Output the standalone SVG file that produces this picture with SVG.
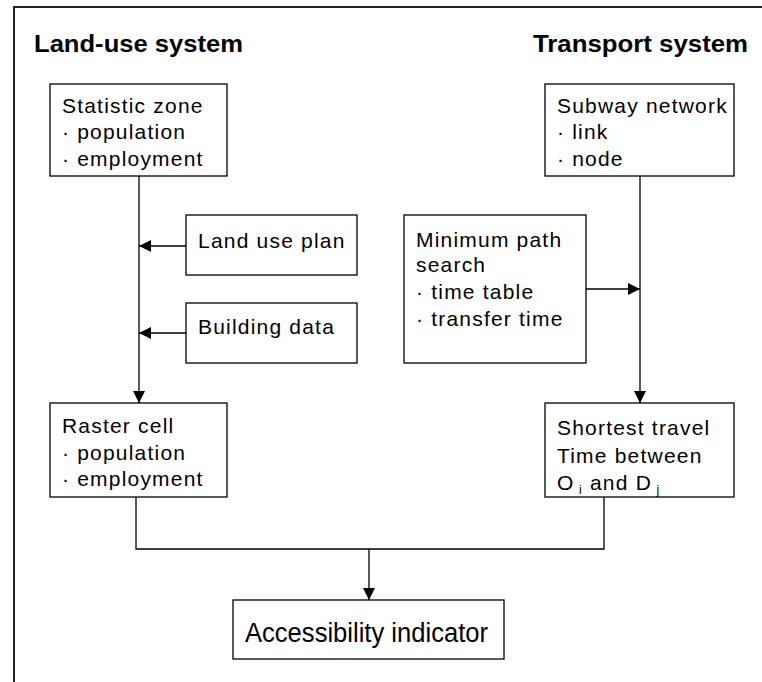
<svg xmlns="http://www.w3.org/2000/svg" width="762" height="682" viewBox="0 0 762 682">
<style>
.box{fill:#fff;stroke:#000;stroke-width:1.3}
.t{font-family:"Liberation Sans",Arial,sans-serif;font-size:21px;letter-spacing:1.2px;fill:#000}
.s{font-size:12px;fill:#000}
.h{font-family:"Liberation Sans",Arial,sans-serif;font-size:23px;font-weight:bold;fill:#000}
.c{fill:none;stroke:#000;stroke-width:1.3}
</style>
<defs>
<marker id="ah" viewBox="0 0 12 12" refX="12" refY="6" markerWidth="12" markerHeight="12" markerUnits="userSpaceOnUse" orient="auto">
<path d="M0,0 L12,6 L0,12 Z" fill="#000"/>
</marker>
</defs>
<rect width="762" height="682" fill="#fff"/>
<path d="M14,682 L14,7 L762,7" fill="none" stroke="#222" stroke-width="2"/>
<text class="h" x="34" y="52" textLength="209" lengthAdjust="spacingAndGlyphs">Land-use system</text>
<text class="h" x="533" y="52" textLength="215" lengthAdjust="spacingAndGlyphs">Transport system</text>
<g id="connectors">
<line class="c" x1="139" y1="176" x2="139" y2="403" marker-end="url(#ah)"/>
<line class="c" x1="186" y1="246" x2="139" y2="246" marker-end="url(#ah)"/>
<line class="c" x1="186" y1="333" x2="139" y2="333" marker-end="url(#ah)"/>
<line class="c" x1="640" y1="176" x2="640" y2="403" marker-end="url(#ah)"/>
<line class="c" x1="586" y1="289" x2="640" y2="289" marker-end="url(#ah)"/>
<path class="c" d="M136,497 L136,549 L604,549 L604,497"/>
<line class="c" x1="369" y1="549" x2="369" y2="600" marker-end="url(#ah)"/>
</g>
<g id="statistic-zone">
<rect class="box" x="50" y="84" width="177" height="92"/>
<text class="t" x="62" y="113">Statistic zone</text>
<text class="t" x="62" y="139">· population</text>
<text class="t" x="62" y="166">· employment</text>
</g>
<g id="land-use-plan">
<rect class="box" x="186" y="215" width="171" height="60"/>
<text class="t" x="198" y="248">Land use plan</text>
</g>
<g id="building-data">
<rect class="box" x="186" y="303" width="171" height="60"/>
<text class="t" x="198" y="334">Building data</text>
</g>
<g id="raster-cell">
<rect class="box" x="50" y="403" width="177" height="94"/>
<text class="t" x="62" y="433">Raster cell</text>
<text class="t" x="62" y="460">· population</text>
<text class="t" x="62" y="486">· employment</text>
</g>
<g id="subway-network">
<rect class="box" x="545" y="84" width="189" height="92"/>
<text class="t" x="557" y="113">Subway network</text>
<text class="t" x="557" y="139">·  link</text>
<text class="t" x="557" y="166">· node</text>
</g>
<g id="minimum-path-search">
<rect class="box" x="404" y="215" width="182" height="148"/>
<text class="t" x="416" y="247">Minimum path</text>
<text class="t" x="416" y="272">search</text>
<text class="t" x="416" y="299">· time table</text>
<text class="t" x="416" y="326">· transfer time</text>
</g>
<g id="shortest-travel">
<rect class="box" x="545" y="403" width="189" height="94"/>
<text class="t" x="557" y="435">Shortest travel</text>
<text class="t" x="557" y="463">Time between</text>
<text class="t" x="557" y="490">O<tspan class="s" dy="4"> i</tspan><tspan dy="-4"> and D</tspan><tspan class="s" dy="4"> j</tspan></text>
</g>
<g id="accessibility-indicator">
<rect class="box" x="233" y="600" width="271" height="59"/>
<text class="t" x="245" y="642" style="font-size:27px;letter-spacing:0" textLength="243" lengthAdjust="spacingAndGlyphs">Accessibility indicator</text>
</g>
</svg>
